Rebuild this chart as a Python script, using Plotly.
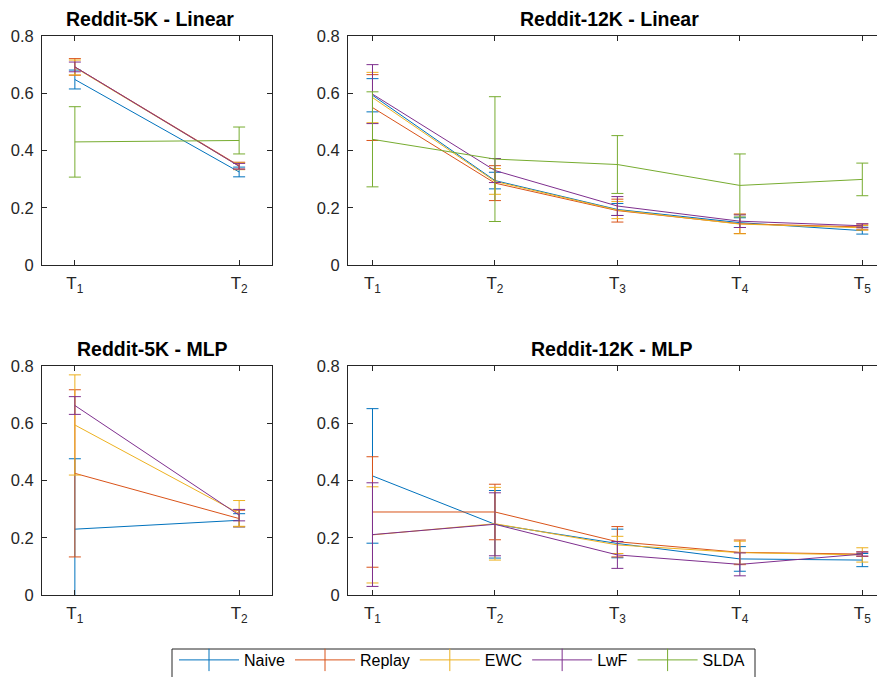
import plotly.graph_objects as go

W, H = 877, 677

methods = ["Naive", "Replay", "EWC", "LwF", "SLDA"]
colors = ["#0072BD", "#D95319", "#EDB120", "#7E2F8E", "#77AC30"]

tasks2 = [1, 2]
tasks5 = [1, 2, 3, 4, 5]
tick2 = ["T<sub>1</sub>", "T<sub>2</sub>"]
tick5 = ["T<sub>1</sub>", "T<sub>2</sub>", "T<sub>3</sub>", "T<sub>4</sub>", "T<sub>5</sub>"]

# Reddit-5K - Linear (mean, std)
r5_lin_mean = {
    "Naive": [0.648, 0.325],
    "Replay": [0.692, 0.347],
    "EWC": [0.690, 0.345],
    "LwF": [0.692, 0.345],
    "SLDA": [0.430, 0.435],
}
r5_lin_err = {
    "Naive": [0.033, 0.017],
    "Replay": [0.029, 0.012],
    "EWC": [0.026, 0.012],
    "LwF": [0.017, 0.010],
    "SLDA": [0.123, 0.047],
}

# Reddit-12K - Linear
r12_lin_mean = {
    "Naive": [0.593, 0.295, 0.194, 0.148, 0.120],
    "Replay": [0.550, 0.286, 0.190, 0.144, 0.133],
    "EWC": [0.585, 0.292, 0.192, 0.143, 0.130],
    "LwF": [0.597, 0.330, 0.206, 0.153, 0.137],
    "SLDA": [0.439, 0.370, 0.351, 0.278, 0.299],
}
r12_lin_err = {
    "Naive": [0.058, 0.029, 0.021, 0.017, 0.012],
    "Replay": [0.115, 0.061, 0.040, 0.034, 0.010],
    "EWC": [0.088, 0.045, 0.030, 0.034, 0.008],
    "LwF": [0.103, 0.042, 0.033, 0.022, 0.007],
    "SLDA": [0.166, 0.218, 0.101, 0.110, 0.057],
}

# Reddit-5K - MLP
r5_mlp_mean = {
    "Naive": [0.230, 0.261],
    "Replay": [0.425, 0.267],
    "EWC": [0.594, 0.285],
    "LwF": [0.662, 0.279],
}
r5_mlp_err = {
    "Naive": [0.246, 0.023],
    "Replay": [0.292, 0.029],
    "EWC": [0.175, 0.045],
    "LwF": [0.031, 0.020],
}

# Reddit-12K - MLP
r12_mlp_mean = {
    "Naive": [0.416, 0.247, 0.180, 0.126, 0.122],
    "Replay": [0.290, 0.290, 0.186, 0.149, 0.143],
    "EWC": [0.210, 0.249, 0.175, 0.148, 0.140],
    "LwF": [0.211, 0.247, 0.140, 0.107, 0.143],
}
r12_mlp_err = {
    "Naive": [0.235, 0.118, 0.050, 0.043, 0.023],
    "Replay": [0.193, 0.097, 0.053, 0.043, 0.008],
    "EWC": [0.168, 0.127, 0.030, 0.040, 0.025],
    "LwF": [0.181, 0.110, 0.047, 0.040, 0.007],
}

panels = [
    ("Reddit-5K - Linear", tasks2, r5_lin_mean, r5_lin_err, "x", "y"),
    ("Reddit-12K - Linear", tasks5, r12_lin_mean, r12_lin_err, "x2", "y2"),
    ("Reddit-5K - MLP", tasks2, r5_mlp_mean, r5_mlp_err, "x3", "y3"),
    ("Reddit-12K - MLP", tasks5, r12_mlp_mean, r12_mlp_err, "x4", "y4"),
]

fig = go.Figure()
for title, xs, means, errs, xa, ya in panels:
    for m, c in zip(methods, colors):
        if m not in means:
            continue
        fig.add_trace(go.Scatter(
            x=xs, y=means[m], mode="lines", xaxis=xa, yaxis=ya,
            line=dict(color=c, width=1),
            error_y=dict(type="data", array=errs[m], visible=True,
                         color=c, thickness=1, width=6),
            showlegend=False, name=m, hoverinfo="skip",
        ))

# legend entries (no data; only the legend glyphs)
for m, c in zip(methods, colors):
    fig.add_trace(go.Scatter(
        x=[None], y=[None], mode="lines+markers", name=m,
        line=dict(color=c, width=1),
        marker=dict(symbol="line-ns-open", size=18, color=c,
                    line=dict(color=c, width=1)),
        showlegend=True,
    ))

def px2x(p):
    return p / W

def px2y(p):
    return 1 - p / H

axcol = "#262626"
font = "Liberation Sans, Arial, sans-serif"
common_x = dict(showline=True, linecolor=axcol, linewidth=1, ticks="inside",
                ticklen=5, tickcolor=axcol, tickwidth=1, showgrid=False,
                zeroline=False, mirror="ticks",
                tickfont=dict(family=font, size=17, color=axcol),
                ticklabelstandoff=3)
common_y = dict(showline=True, linecolor=axcol, linewidth=1, ticks="inside",
                ticklen=5, tickcolor=axcol, tickwidth=1, showgrid=False,
                zeroline=False, range=[0, 0.8],
                tickvals=[0, 0.2, 0.4, 0.6, 0.8],
                ticktext=["0", "0.2", "0.4", "0.6", "0.8"],
                tickfont=dict(family=font, size=16.5, color=axcol),
                ticklabelstandoff=4)

left = [px2x(42), px2x(272)]
right = [px2x(348), 1.0]
top = [px2y(265), px2y(36)]
bot = [px2y(595), px2y(366)]

fig.update_layout(
    width=W, height=H,
    margin=dict(l=0, r=0, t=0, b=0, autoexpand=False),
    paper_bgcolor="white", plot_bgcolor="white",
    xaxis=dict(common_x, domain=left, range=[0.8, 2.2], tickvals=tasks2, ticktext=tick2, anchor="y"),
    yaxis=dict(common_y, domain=top, anchor="x", mirror="ticks"),
    xaxis2=dict(common_x, domain=right, range=[0.8, 5.12], tickvals=tasks5, ticktext=tick5, anchor="y2"),
    yaxis2=dict(common_y, domain=top, anchor="x2", mirror=False),
    xaxis3=dict(common_x, domain=left, range=[0.8, 2.2], tickvals=tasks2, ticktext=tick2, anchor="y3"),
    yaxis3=dict(common_y, domain=bot, anchor="x3", mirror="ticks"),
    xaxis4=dict(common_x, domain=right, range=[0.8, 5.12], tickvals=tasks5, ticktext=tick5, anchor="y4"),
    yaxis4=dict(common_y, domain=bot, anchor="x4", mirror=False),
    legend=dict(orientation="h", x=px2x(174), xanchor="left",
                y=0, yanchor="bottom",
                borderwidth=0, bgcolor="rgba(0,0,0,0)",
                font=dict(family=font, size=16, color="black"),
                itemwidth=60, tracegroupgap=0),
    showlegend=True,
    hovermode=False,
)

# legend frame (open at the bottom, as the canvas crops it)
frame = dict(xref="paper", yref="paper", line=dict(color=axcol, width=1), layer="above")
fig.add_shape(type="line", x0=px2x(172), x1=px2x(755), y0=px2y(649), y1=px2y(649), **frame)
fig.add_shape(type="line", x0=px2x(172), x1=px2x(172), y0=px2y(649), y1=0, **frame)
fig.add_shape(type="line", x0=px2x(755), x1=px2x(755), y0=px2y(649), y1=0, **frame)

title_pos = [(150, 19), (609, 19), (152, 349), (611, 349)]
for (title, *_), (tx, ty) in zip(panels, title_pos):
    fig.add_annotation(text="<b>" + title + "</b>", xref="paper", yref="paper",
                       x=px2x(tx), y=px2y(ty), xanchor="center", yanchor="middle",
                       showarrow=False,
                       font=dict(family=font, size=19.5, color="black"))

fig.write_html(
    "out.html",
    config={"displayModeBar": False},
    post_script="document.body.style.margin='0';document.body.style.padding='0';document.body.style.overflow='hidden';",
)
